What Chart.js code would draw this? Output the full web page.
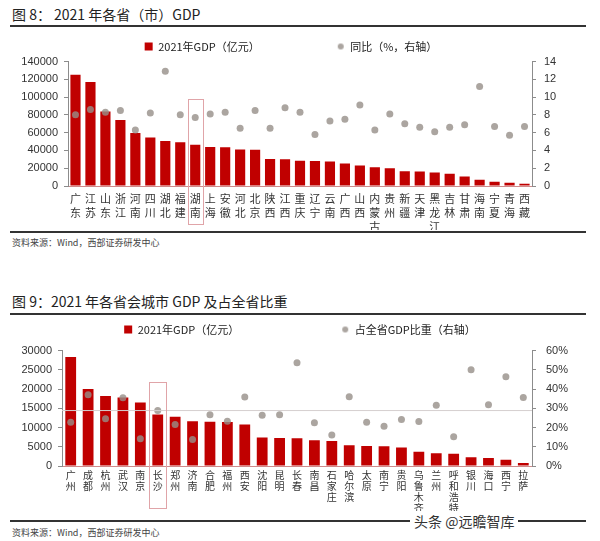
<!DOCTYPE html>
<html>
<head>
<meta charset="utf-8">
<script src="https://cdn.jsdelivr.net/npm/chart.js@4.4.0/dist/chart.umd.min.js"></script>
<style>
    body { margin: 0; background: #fff; }
    #page { position: relative; width: 600px; height: 541px; overflow: hidden; font-family: "Noto Sans CJK SC", "Noto Sans", sans-serif; color: #222; }
    .title { position: absolute; left: 12px; font-size: 14px; line-height: 18px; white-space: nowrap; }
    .rule { position: absolute; left: 10px; width: 576px; height: 2px; background: #333; }
    .source { position: absolute; left: 12px; font-size: 9px; line-height: 12px; color: #444; white-space: nowrap; }
    .box { position: absolute; left: 0; width: 600px; }
    .mark { position: absolute; left: 410px; top: 511px; padding: 0 4px; background: #fff; font-size: 14px; line-height: 20px; color: #333; }
</style>
</head>
<body>
<div id="page">
    <div class="title" style="top:5px">图 8：&nbsp;2021 年各省（市）GDP</div>
    <div class="rule" style="top:25px"></div>
    <div class="box" style="top:30px;height:200px"><canvas id="chart8"></canvas></div>
    <div class="rule" style="top:231px"></div>
    <div class="source" style="top:237px">资料来源：Wind，西部证券研发中心</div>

    <div class="title" style="top:292px">图 9：2021 年各省会城市 GDP 及占全省比重</div>
    <div class="rule" style="top:313px"></div>
    <div class="box" style="top:316px;height:204px"><canvas id="chart9"></canvas></div>
    <div class="rule" style="top:520px"></div>
    <div class="mark">头条 @远瞻智库</div>
    <div class="source" style="top:527px">资料来源：Wind，西部证券研发中心</div>
</div>
<script>
// --- 图8：各省 GDP ---
const provinces = [['广','东'],['江','苏'],['山','东'],['浙','江'],['河','南'],['四','川'],['湖','北'],['福','建'],['湖','南'],['上','海'],['安','徽'],['河','北'],['北','京'],['陕','西'],['江','西'],['重','庆'],['辽','宁'],['云','南'],['广','西'],['山','西'],['内','蒙','古'],['贵','州'],['新','疆'],['天','津'],['黑','龙','江'],['吉','林'],['甘','肃'],['海','南'],['宁','夏'],['青','海'],['西','藏']];
const provGdp = [125000, 117000, 83800, 74200, 59500, 54500, 50600, 49300, 46500, 43900, 43700, 41000, 40800, 30300, 30100, 28400, 28100, 27600, 25200, 23000, 21000, 20100, 16500, 16200, 15300, 13700, 10700, 6900, 4900, 3700, 2400];
const provGrowth = [8.0, 8.6, 8.3, 8.5, 6.3, 8.2, 12.9, 8.0, 7.7, 8.1, 8.3, 6.5, 8.5, 6.5, 8.8, 8.3, 5.8, 7.3, 7.5, 9.1, 6.3, 8.1, 7.0, 6.6, 6.1, 6.6, 6.9, 11.2, 6.7, 5.7, 6.7];
const provHighlight = 8;          // 湖南
const provBoxTop = 98000;         // 框顶（左轴数值）

// --- 图9：省会城市 GDP 及占全省比重 ---
const capitals = [['广','州'],['成','都'],['杭','州'],['武','汉'],['南','京'],['长','沙'],['郑','州'],['济','南'],['合','肥'],['福','州'],['西','安'],['沈','阳'],['昆','明'],['长','春'],['南','昌'],['石','家','庄'],['哈','尔','滨'],['太','原'],['南','宁'],['贵','阳'],['乌','鲁','木','齐'],['兰','州'],['呼','和','浩','特'],['银','川'],['海','口'],['西','宁'],['拉','萨']];
const capGdp = [28300, 20000, 18200, 17800, 16500, 13400, 12800, 11600, 11500, 11400, 10800, 7400, 7300, 7200, 6700, 6500, 5400, 5200, 5100, 4800, 3700, 3300, 3200, 2300, 2100, 1600, 800];
const capShare = [22.7, 37.0, 24.6, 35.4, 14.1, 28.8, 21.6, 13.8, 26.6, 23.2, 35.9, 26.3, 26.6, 53.7, 22.5, 16.1, 36.0, 22.7, 20.7, 24.1, 23.1, 31.5, 15.2, 50.0, 31.8, 46.3, 35.6];
const capRefLine = 28.8;          // 长沙占比参考线
const capHighlight = 5;           // 长沙
const capBoxTop = 21700;

const RED = '#C00000';
const DOT = 'rgba(150,142,136,0.8)';
const AXIS = '#8c8c8c';
const numFont = { family: '"Liberation Sans", Arial, sans-serif', size: 11 };

// 图例里的小圆点
function dotImage() {
    const c = document.createElement('canvas');
    c.width = 8; c.height = 8;
    const g = c.getContext('2d');
    g.fillStyle = DOT;
    g.beginPath(); g.arc(4, 4, 3, 0, Math.PI * 2); g.fill();
    return c;
}

// 调整图例高度（图例文字和绘图区之间的距离）
const legendFit = {
    id: 'legendFit',
    afterInit(chart, args, opts) {
        const lg = chart.legend;
        const fit = lg.fit;
        lg.fit = function () { fit.call(this); this.height = opts.height; };
    }
};

// 高亮框 + 参考线
const decorations = {
    id: 'decorations',
    afterDatasetsDraw(chart, args, opts) {
        const { ctx, chartArea } = chart;
        const x = chart.scales.x;
        const step = (chartArea.right - chartArea.left) / chart.data.labels.length;
        const cx = x.getPixelForValue(opts.index);
        const top = chart.scales.y.getPixelForValue(opts.boxTop);
        ctx.save();
        if (opts.refLine != null) {
            const ry = chart.scales.y1.getPixelForValue(opts.refLine);
            ctx.strokeStyle = '#d6cfcf';
            ctx.lineWidth = 1;
            ctx.beginPath(); ctx.moveTo(chartArea.left, ry); ctx.lineTo(chartArea.right, ry); ctx.stroke();
        }
        ctx.strokeStyle = '#e0a4a8';
        ctx.lineWidth = 1;
        ctx.strokeRect(Math.round(cx - step / 2) + 0.5, Math.round(top) + 0.5, Math.round(step), Math.round(chart.height - opts.boxBottomGap - top));
        ctx.restore();
    }
};

function makeChart(canvasId, cfg) {
    return new Chart(document.getElementById(canvasId), {
        type: 'bar',
        data: {
            labels: cfg.labels,
            datasets: [{
                label: cfg.barLabel,
                data: cfg.bars,
                backgroundColor: RED,
                barPercentage: cfg.barPct,
                categoryPercentage: 1,
                yAxisID: 'y',
                order: 1
            }, {
                type: 'line',
                label: cfg.dotLabel,
                data: cfg.dots,
                showLine: false,
                pointRadius: 3.5,
                pointBackgroundColor: DOT,
                pointBorderWidth: 0,
                yAxisID: 'y1',
                order: 0
            }]
        },
        options: {
            responsive: true,
            maintainAspectRatio: false,
            animation: false,
            layout: { padding: { top: cfg.padTop, right: cfg.padRight, left: 0, bottom: 0 } },
            plugins: {
                tooltip: { enabled: false },
                legend: {
                    position: 'top',
                    labels: {
                        usePointStyle: true,
                        boxWidth: 8,
                        boxHeight: 8,
                        padding: cfg.legendGap,
                        color: '#222',
                        font: { family: '"Noto Sans CJK SC", sans-serif', size: 11 },
                        sort: (a, b) => a.datasetIndex - b.datasetIndex,
                        generateLabels: chart => Chart.defaults.plugins.legend.labels.generateLabels(chart).map(item => {
                            item.pointStyle = item.datasetIndex === 0 ? 'rect' : dotImage();
                            return item;
                        })
                    }
                },
                legendFit: { height: cfg.legendHeight },
                decorations: { index: cfg.highlight, boxTop: cfg.boxTop, boxBottomGap: cfg.boxBottomGap, refLine: cfg.refLine }
            },
            scales: {
                x: {
                    grid: { display: false, drawTicks: false },
                    border: { color: '#cf8a8a', dash: [1, 2] },
                    ticks: {
                        color: '#333',
                        padding: cfg.xPad,
                        autoSkip: false,
                        maxRotation: 0,
                        font: { family: '"Noto Sans CJK SC", sans-serif', size: cfg.xFont, lineHeight: cfg.xLine }
                    },
                    afterFit: s => { s.height = cfg.xHeight; }
                },
                y: {
                    position: 'left',
                    min: 0, max: cfg.yMax,
                    grid: { drawOnChartArea: false, tickLength: 4, color: AXIS },
                    border: { color: AXIS },
                    ticks: { stepSize: cfg.yStep, color: '#333', padding: 6, font: numFont, callback: v => String(v) },
                    afterFit: s => { s.width = cfg.leftWidth; }
                },
                y1: {
                    position: 'right',
                    min: 0, max: cfg.y1Max,
                    grid: { drawOnChartArea: false, tickLength: 4, color: AXIS },
                    border: { color: AXIS },
                    ticks: { stepSize: cfg.y1Step, color: '#333', padding: cfg.rightPad, font: numFont, callback: cfg.y1Format },
                    afterFit: s => { s.width = cfg.rightWidth; }
                }
            }
        },
        plugins: [legendFit, decorations]
    });
}

makeChart('chart8', {
    labels: provinces, bars: provGdp, dots: provGrowth,
    barLabel: '2021年GDP（亿元）', dotLabel: '同比（%，右轴）',
    barPct: 0.68,
    padTop: -66, padRight: 18, legendGap: 77, legendHeight: 97.5,
    xPad: 6, xFont: 11, xLine: 1.25, xHeight: 44,
    yMax: 140000, yStep: 20000, y1Max: 14, y1Step: 2, y1Format: v => String(v),
    leftWidth: 68, rightWidth: 50, rightPad: 8,
    highlight: provHighlight, boxTop: provBoxTop, boxBottomGap: 6, refLine: null
});

makeChart('chart9', {
    labels: capitals, bars: capGdp, dots: capShare,
    barLabel: '2021年GDP（亿元）', dotLabel: '占全省GDP比重（右轴）',
    barPct: 0.62,
    padTop: -94, padRight: 0, legendGap: 102, legendHeight: 128.5,
    xPad: 4, xFont: 10, xLine: 1.1, xHeight: 54,
    yMax: 30000, yStep: 5000, y1Max: 60, y1Step: 10, y1Format: v => v + '%',
    leftWidth: 62, rightWidth: 68, rightPad: 10,
    highlight: capHighlight, boxTop: capBoxTop, boxBottomGap: 12, refLine: capRefLine
});
</script>
</body>
</html>
